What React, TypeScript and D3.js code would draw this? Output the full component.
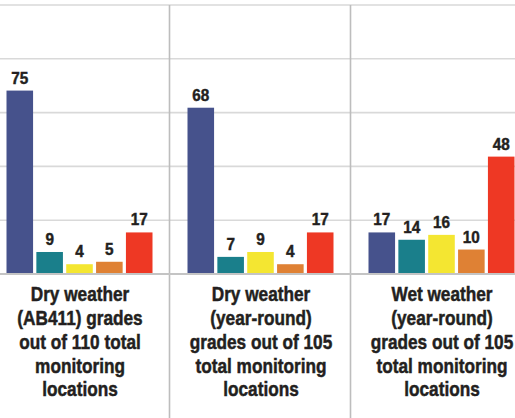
import React from "react";
import { scaleBand, scaleLinear } from "d3";

// grade order: A, B, C, D, F
const grades = ["A", "B", "C", "D", "F"];
const gradeColors = ["#46528c", "#1a7f8b", "#f4e631", "#df8134", "#ee3824"];

const dryAB411 = [75, 9, 4, 5, 17];
const dryYearRound = [68, 7, 9, 4, 17];
const wetYearRound = [17, 14, 16, 10, 48];

const panelLabels = [
  ["Dry weather", "(AB411) grades", "out of 110 total", "monitoring", "locations"],
  ["Dry weather", "(year-round)", "grades out of 105", "total monitoring", "locations"],
  ["Wet weather", "(year-round)", "grades out of 105", "total monitoring", "locations"],
];

const yTicks = [0, 22, 44, 66, 88, 110];

const WIDTH = 515;
const HEIGHT = 418;
const FONT = "'Liberation Sans', Arial, Helvetica, sans-serif";
// the original uses a heavy condensed face; squeeze + thicken a regular bold
const LABEL_SQUEEZE = 0.84;
const VALUE_SQUEEZE = 0.9;
const INK = "#231f20";

const App = () => {
  const panels = [dryAB411, dryYearRound, wetYearRound];

  // panel scale (left panel is cropped by the frame)
  const xPanel = scaleBand<number>()
    .domain(panels.map((_, i) => i))
    .range([-11.5, 531.5])
    .padding(0);
  const xGrade = scaleBand<string>()
    .domain(grades)
    .range([18, 164])
    .paddingInner(0.11)
    .paddingOuter(0);
  const yScale = scaleLinear().domain([0, 110]).range([274, 5]);

  return (
    <svg
      width={WIDTH}
      height={HEIGHT}
      style={{ position: "absolute", left: 0, top: 0, background: "#fff" }}
    >
      {/* grid lines */}
      {yTicks
        .filter((t) => t > 0)
        .map((t) => (
          <line
            key={t}
            x1={0}
            x2={WIDTH}
            y1={yScale(t)}
            y2={yScale(t)}
            stroke="#d9d9d9"
            strokeWidth={1.6}
          />
        ))}
      {/* panel dividers */}
      {panels.slice(1).map((_, i) => {
        const x = xPanel(i + 1)!;
        return (
          <line
            key={i}
            x1={x}
            x2={x}
            y1={yScale(110)}
            y2={HEIGHT}
            stroke="#bdbdbd"
            strokeWidth={1.6}
          />
        );
      })}
      {panels.map((vals, p) => {
        const px = xPanel(p)!;
        return (
          <g key={p} transform={`translate(${px},0)`}>
            {vals.map((v, i) => {
              const x = xGrade(grades[i])!;
              const bw = xGrade.bandwidth();
              return (
                <g key={i}>
                  <rect
                    x={x}
                    y={yScale(v)}
                    width={bw}
                    height={yScale(0) - yScale(v)}
                    fill={gradeColors[i]}
                  />
                  <text
                    transform={`translate(${x + bw / 2},${yScale(v) - 7}) scale(${VALUE_SQUEEZE},1)`}
                    textAnchor="middle"
                    fontFamily={FONT}
                    fontWeight="bold"
                    fontSize={17}
                    fill={INK}
                    stroke={INK}
                    strokeWidth={0.45}
                  >
                    {v}
                  </text>
                </g>
              );
            })}
            <g transform={`translate(${xPanel.bandwidth() / 2 + 1},0) scale(${LABEL_SQUEEZE},1)`}>
              <text
                textAnchor="middle"
                fontFamily={FONT}
                fontWeight="bold"
                fontSize={20.5}
                fill={INK}
                stroke={INK}
                strokeWidth={0.5}
              >
                {panelLabels[p].map((line, li) => (
                  <tspan key={li} x={0} y={301.5 + li * 23.75}>
                    {line}
                  </tspan>
                ))}
              </text>
            </g>
          </g>
        );
      })}
      {/* baseline */}
      <line
        x1={0}
        x2={WIDTH}
        y1={yScale(0)}
        y2={yScale(0)}
        stroke="#c4c4c4"
        strokeWidth={2}
      />
    </svg>
  );
};

export default App;
